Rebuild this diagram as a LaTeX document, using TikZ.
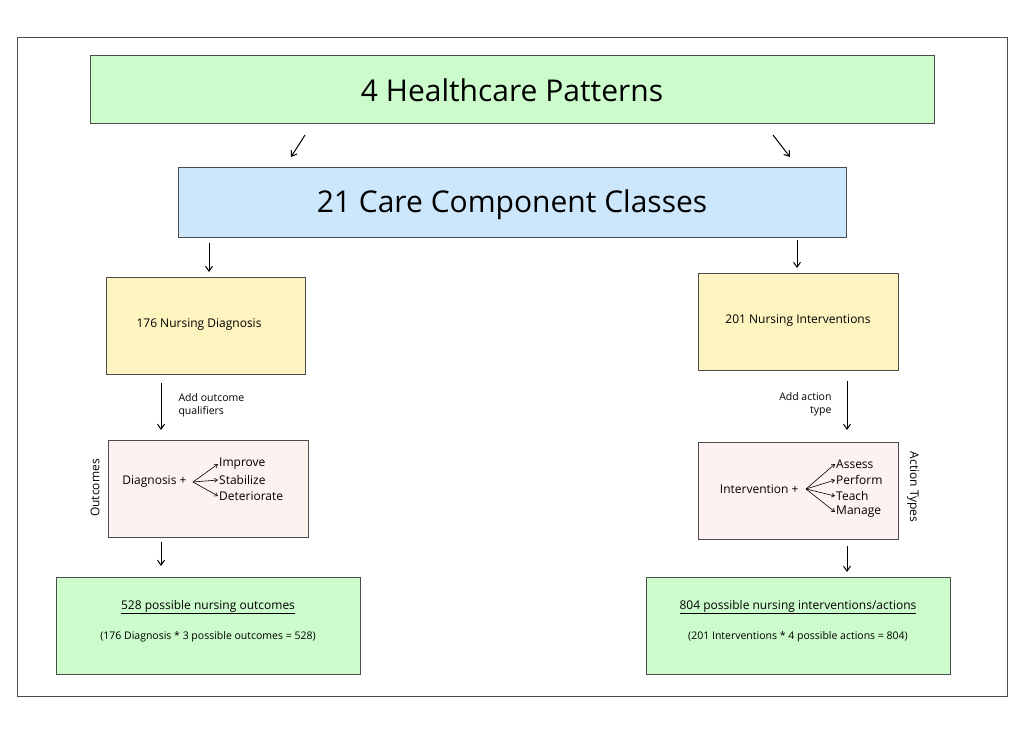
\documentclass[tikz,border=0pt]{standalone}
\usepackage{fontspec}
\setmainfont{Open Sans}
\usetikzlibrary{arrows.meta}
\definecolor{gr}{HTML}{CCFCCB}
\definecolor{bl}{HTML}{CCE7FC}
\definecolor{ye}{HTML}{FDF4C0}
\definecolor{pk}{HTML}{FDF2F0}
\begin{document}
\begin{tikzpicture}[x=1pt,y=-1pt,
 bx/.style={draw=black!70,line width=0.7pt,inner sep=0pt},
 ar/.style={-{Straight Barb[length=5pt,width=7pt]},line width=1pt},
 fan/.style={-{Straight Barb[length=3pt,width=4pt]},line width=0.6pt},
 sm/.style={font=\fontsize{12}{14}\selectfont},
 tn/.style={font=\fontsize{10.5}{13}\selectfont}]
\useasboundingbox (0,0) rectangle (1024,734);
\draw[black!70,line width=0.7pt] (17,37) rectangle (1007,696);
\draw[bx,fill=gr] (90,55) rectangle (934,123);
\node (t1) at (512,90) {\fontsize{30}{34}\selectfont 4 Healthcare Patterns};
\draw[bx,fill=bl] (178,167) rectangle (846,237);
\node (t2) at (512,205) {\fontsize{30}{34}\selectfont 21 Care Component Classes};
\draw[bx,fill=ye] (106,277) rectangle (305,374);
\node[sm] (d) at (199,325) {176 Nursing Diagnosis};
\draw[bx,fill=ye] (698,273) rectangle (898,370);
\node[sm] (i) at (798,321) {201 Nursing Interventions};
\draw[bx,fill=pk] (108,440) rectangle (308,537);
\draw[bx,fill=pk] (698,442) rectangle (898,539);
\draw[bx,fill=gr] (56,577) rectangle (360,674);
\draw[bx,fill=gr] (646,577) rectangle (950,674);
% arrows
\coordinate (a1) at (305,135); \coordinate (a2) at (291,157);
\coordinate (b1) at (773,135); \coordinate (b2) at (790,157);
\draw[ar] (a1) -- (a2); \draw[ar] (b1) -- (b2);
\coordinate (c1) at (209,243); \coordinate (c2) at (209,272);
\coordinate (e1) at (797,240); \coordinate (e2) at (797,268);
\coordinate (f1) at (161,383); \coordinate (f2) at (161,430);
\coordinate (g1) at (847,381); \coordinate (g2) at (847,430);
\coordinate (h1) at (161,542); \coordinate (h2) at (161,566);
\coordinate (k1) at (847,546); \coordinate (k2) at (847,572);
\foreach \p/\q in {c1/c2,e1/e2,f1/f2,g1/g2,h1/h2,k1/k2} \draw[ar] (\p) -- (\q);
\node[tn,align=left,anchor=west] (l1) at (175,405) {Add outcome\\qualifiers};
\node[tn,align=right,anchor=east] (l2) at (835,404) {Add action\\type};
\node[sm,rotate=90] (o) at (95,488) {Outcomes};
\node[sm,rotate=-90] (at) at (913,487) {Action Types};
% left fan
\node[sm,anchor=east] (dg) at (190,482) {Diagnosis +};
\coordinate (fl) at (193,482);
\node[sm,anchor=west,inner sep=1pt] (o1) at (218,464) {Improve};
\node[sm,anchor=west,inner sep=1pt] (o2) at (218,480) {Stabilize};
\node[sm,anchor=west,inner sep=1pt] (o3) at (218,496) {Deteriorate};
\foreach \n in {o1,o2,o3} \draw[fan] (fl) -- (\n.west);
% right fan
\node[sm,anchor=east] (iv) at (802,489) {Intervention +};
\coordinate (fr) at (806,489);
\node[sm,anchor=west,inner sep=1pt] (r1) at (835,464) {Assess};
\node[sm,anchor=west,inner sep=1pt] (r2) at (835,480) {Perform};
\node[sm,anchor=west,inner sep=1pt] (r3) at (835,496) {Teach};
\node[sm,anchor=west,inner sep=1pt] (r4) at (835,512) {Manage};
\foreach \n in {r1,r2,r3,r4} \draw[fan] (fr) -- (\n.west);
% bottom
\node[sm] (b1t) at (208,607) {\underline{528 possible nursing outcomes}};
\node[tn] (b1s) at (208,637) {(176 Diagnosis * 3 possible outcomes = 528)};
\node[sm] (b2t) at (798,607) {\underline{804 possible nursing interventions/actions}};
\node[tn] (b2s) at (798,637) {(201 Interventions * 4 possible actions = 804)};
\end{tikzpicture}
\end{document}
